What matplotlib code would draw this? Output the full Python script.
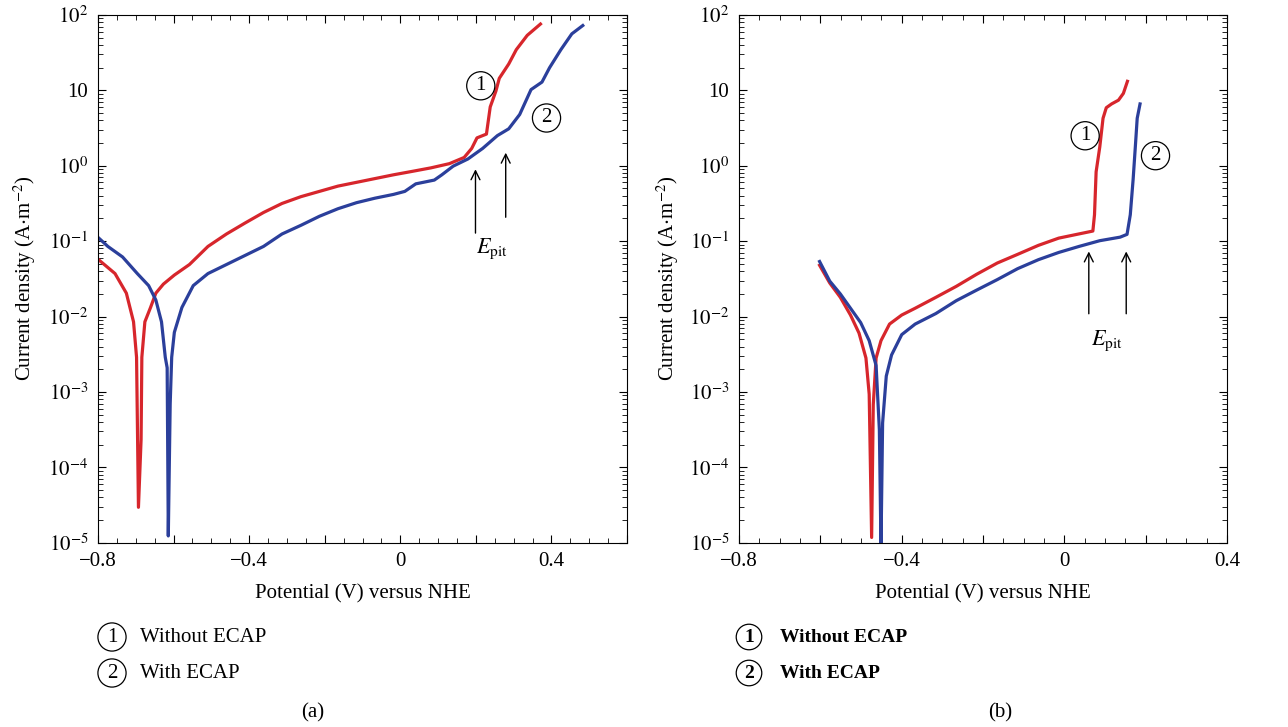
import numpy as np
import matplotlib
matplotlib.use('Agg')
import matplotlib.pyplot as plt
from matplotlib.ticker import MultipleLocator, FuncFormatter, LogLocator, NullFormatter

plt.rcParams['font.family'] = ['Liberation Serif', 'DejaVu Serif']
plt.rcParams['mathtext.fontset'] = 'stix'
plt.rcParams['font.size'] = 15

RED = '#d7262c'
BLUE = '#2b3f9b'
FS = 15

# panel (a): without ECAP (1) / with ECAP (2)
a1_v = [-0.800, -0.755, -0.725, -0.706, -0.698, -0.693, -0.686, -0.684, -0.676, -0.661,
        -0.647, -0.627, -0.598, -0.558, -0.509, -0.460, -0.411, -0.362, -0.313, -0.263,
        -0.214, -0.165, -0.116, -0.067, -0.018, 0.031, 0.081, 0.130, 0.169, 0.189,
        0.203, 0.228, 0.238, 0.253, 0.262, 0.287, 0.307, 0.336, 0.371]
a1_log = [-1.24, -1.43, -1.69, -2.07, -2.54, -4.53, -3.63, -2.54, -2.07, -1.88,
          -1.69, -1.57, -1.45, -1.31, -1.07, -0.905, -0.76, -0.62, -0.50, -0.41,
          -0.34, -0.27, -0.22, -0.17, -0.12, -0.075, -0.028, 0.028, 0.11, 0.23,
          0.37, 0.42, 0.78, 0.99, 1.16, 1.35, 1.54, 1.73, 1.88]
a2_v = [-0.800, -0.774, -0.735, -0.696, -0.666, -0.647, -0.632, -0.622, -0.617, -0.614,
        -0.609, -0.605, -0.598, -0.578, -0.548, -0.509, -0.460, -0.411, -0.362, -0.313,
        -0.263, -0.214, -0.165, -0.116, -0.067, -0.018, 0.012, 0.041, 0.090, 0.110,
        0.140, 0.179, 0.218, 0.257, 0.287, 0.316, 0.346, 0.375, 0.395, 0.425, 0.454, 0.483]
a2_log = [-0.95, -1.07, -1.21, -1.43, -1.59, -1.78, -2.07, -2.54, -2.68, -4.91,
          -3.16, -2.54, -2.21, -1.88, -1.59, -1.43, -1.31, -1.19, -1.07, -0.905,
          -0.79, -0.67, -0.57, -0.49, -0.43, -0.38, -0.34, -0.24, -0.19, -0.12,
          -0.005, 0.09, 0.23, 0.40, 0.49, 0.68, 1.01, 1.11, 1.30, 1.54, 1.75, 1.86]

# panel (b)
b1_v = [-0.602, -0.577, -0.551, -0.526, -0.505, -0.488, -0.480, -0.474, -0.470, -0.463,
        -0.451, -0.430, -0.400, -0.367, -0.316, -0.266, -0.216, -0.165, -0.115, -0.064,
        -0.014, 0.036, 0.070, 0.074, 0.078, 0.087, 0.095, 0.103, 0.116, 0.133, 0.145, 0.155]
b1_log = [-1.32, -1.555, -1.745, -1.98, -2.22, -2.55, -3.03, -4.93, -3.17, -2.55,
          -2.32, -2.10, -1.98, -1.89, -1.745, -1.60, -1.44, -1.29, -1.175, -1.056,
          -0.96, -0.904, -0.866, -0.65, -0.08, 0.25, 0.63, 0.77, 0.82, 0.87, 0.96, 1.12]
b2_v = [-0.602, -0.577, -0.551, -0.526, -0.501, -0.480, -0.463, -0.455, -0.451, -0.447,
        -0.438, -0.425, -0.400, -0.367, -0.316, -0.266, -0.216, -0.165, -0.115, -0.064,
        -0.014, 0.036, 0.087, 0.137, 0.154, 0.162, 0.169, 0.175, 0.179, 0.186]
b2_log = [-1.27, -1.53, -1.70, -1.89, -2.08, -2.32, -2.65, -3.50, -5.05, -3.41,
          -2.79, -2.51, -2.24, -2.10, -1.96, -1.79, -1.65, -1.51, -1.365, -1.246,
          -1.15, -1.07, -0.994, -0.947, -0.91, -0.65, -0.18, 0.30, 0.63, 0.82]

y_ticks = [1e-5, 1e-4, 1e-3, 1e-2, 1e-1, 1, 10, 100]
y_labels = ['$10^{-5}$', '$10^{-4}$', '$10^{-3}$', '$10^{-2}$', '$10^{-1}$',
            '$10^{0}$', '10', '$10^{2}$']

fig = plt.figure(figsize=(12.88, 7.27), dpi=100)
ax_a = fig.add_axes([0.0761, 0.2535, 0.4107, 0.7259])
ax_b = fig.add_axes([0.5738, 0.2535, 0.3789, 0.7259])


def style_axes(ax, xmax, ylab_x):
    ax.set_yscale('log')
    ax.set_ylim(1e-5, 1e2)
    ax.set_xlim(-0.8, xmax)
    ax.set_yticks(y_ticks)
    ax.set_yticklabels(y_labels)
    ax.yaxis.set_minor_locator(LogLocator(base=10, subs=np.arange(2, 10)))
    ax.yaxis.set_minor_formatter(NullFormatter())
    ax.xaxis.set_major_locator(MultipleLocator(0.2))
    ax.xaxis.set_minor_locator(MultipleLocator(0.05))

    def fmt(v, pos):
        if abs(round(v / 0.4) * 0.4 - v) > 1e-6:
            return ''
        if abs(v) < 1e-9:
            return '0'
        return ('%.1f' % v).replace('-', '\u2212')
    ax.xaxis.set_major_formatter(FuncFormatter(fmt))
    ax.tick_params(which='both', direction='in', top=True, right=True, labelsize=FS)
    ax.tick_params(which='major', length=6)
    ax.tick_params(which='minor', length=3.5)
    ax.tick_params(axis='x', pad=7)
    ax.tick_params(axis='y', pad=7)
    ax.set_xlabel('Potential (V) versus NHE', fontsize=FS)
    ax.set_ylabel('Current density (A$\\cdot$m$^{-2}$)', fontsize=FS)
    ax.xaxis.set_label_coords(0.5, -0.079)
    ax.yaxis.set_label_coords(ylab_x, 0.5)


def circ(ax, x, y, s):
    ax.text(x, y, s, ha='center', va='center', fontsize=FS,
            bbox=dict(boxstyle='circle,pad=0.22', fc='none', ec='black', lw=0.9))


def arrow(ax, x, y0, y1):
    ax.annotate('', xy=(x, y1), xytext=(x, y0),
                arrowprops=dict(arrowstyle='->', lw=1.0, color='black',
                                mutation_scale=16))


# (a)
ax_a.plot(a1_v, 10 ** np.array(a1_log), color=RED, lw=2.3)
ax_a.plot(a2_v, 10 ** np.array(a2_log), color=BLUE, lw=2.3)
style_axes(ax_a, 0.6, -0.113)
circ(ax_a, 0.213, 11.5, '1')
circ(ax_a, 0.387, 4.3, '2')
arrow(ax_a, 0.199, 10 ** -0.93, 10 ** -0.01)
arrow(ax_a, 0.279, 10 ** -0.72, 10 ** 0.21)
ax_a.text(0.243, 10 ** -1.1, '$E_{\\mathrm{pit}}$', ha='center', va='center', fontsize=16)

# (b)
ax_b.plot(b1_v, 10 ** np.array(b1_log), color=RED, lw=2.3)
ax_b.plot(b2_v, 10 ** np.array(b2_log), color=BLUE, lw=2.3)
style_axes(ax_b, 0.4, -0.119)
circ(ax_b, 0.051, 2.5, '1')
circ(ax_b, 0.224, 1.36, '2')
arrow(ax_b, 0.060, 10 ** -2.0, 10 ** -1.1)
arrow(ax_b, 0.152, 10 ** -2.0, 10 ** -1.1)
ax_b.text(0.105, 10 ** -2.32, '$E_{\\mathrm{pit}}$', ha='center', va='center', fontsize=16)

# legends below panels
for cx, tx, weight, fs in [(112, 140, 'normal', 15), (749, 780, 'bold', 14)]:
    for cy, label, num in [(637, 'Without ECAP', '1'), (673, 'With ECAP', '2')]:
        fig.text(cx / 1288, 1 - cy / 727, num, ha='center', va='center', fontsize=fs,
                 fontweight=weight,
                 bbox=dict(boxstyle='circle,pad=0.22', fc='none', ec='black', lw=0.9))
        fig.text(tx / 1288, 1 - cy / 727, label, ha='left', va='center', fontsize=fs,
                 fontweight=weight)

fig.text(313 / 1288, 1 - 713 / 727, '(a)', ha='center', va='center', fontsize=FS)
fig.text(1000 / 1288, 1 - 713 / 727, '(b)', ha='center', va='center', fontsize=FS)

fig.savefig('out.png', dpi=100)
